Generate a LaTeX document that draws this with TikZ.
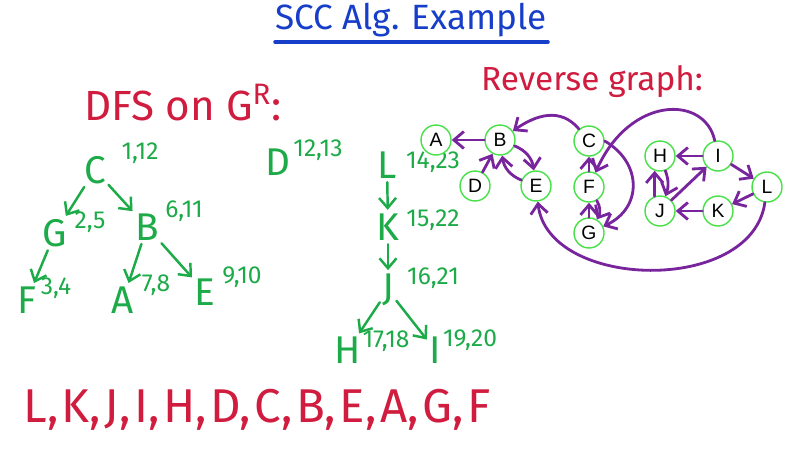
\documentclass[tikz,border=0pt]{standalone}
\usepackage{fontspec}
\setmainfont{Fira Sans}
\newfontfamily\lblfont{Liberation Sans}
\usepackage{xcolor}
\usetikzlibrary{arrows.meta}

\definecolor{inkgreen}{RGB}{29,170,72}
\definecolor{inkred}{RGB}{208,28,62}
\definecolor{inkblue}{RGB}{22,62,200}
\definecolor{inkpurple}{RGB}{120,36,156}
\definecolor{ringgreen}{RGB}{70,225,70}

\begin{document}
\begin{tikzpicture}[
  x=0.02cm, y=-0.02cm,
  vtx/.style={circle, draw=ringgreen, line width=0.8pt, fill=white, minimum size=0.6cm, inner sep=0pt, font=\lblfont\fontsize{11}{13}\selectfont},
  arrow/.style={-{Straight Barb[length=2mm, width=3.4mm]}, draw=inkpurple, line width=1.6pt, line cap=round},
  tarrow/.style={-{Straight Barb[length=2mm, width=3.4mm]}, draw=inkgreen, line width=1.4pt, line cap=round, shorten <=2pt, shorten >=2pt},
  tnode/.style={text=inkgreen, font=\fontsize{22}{26}\selectfont, inner sep=0pt},
  num/.style={text=inkgreen, font=\fontsize{14}{16}\selectfont, inner sep=0pt},
  heading/.style={text=inkred, font=\fontsize{19}{23}\selectfont, inner sep=0pt},
]
\useasboundingbox (0,0) rectangle (786,457);

% titles
\node[text=inkblue, font=\fontsize{20}{24}\selectfont, inner sep=0pt] (title) at (411,20) {SCC Alg. Example};
\draw[inkblue, line width=2pt, line cap=round] (275,42) -- (548,42);
\node[heading, font=\fontsize{24}{28}\selectfont] (dfs) at (183,103) {DFS on G\textsuperscript{R}:};
\node[heading] (rev) at (592,82) {Reverse graph:};

% DFS tree of C
\node[tnode] (tC) at (95,170) {C};
\node[tnode] (tG) at (55,233) {G};
\node[tnode] (tB) at (147,227) {B};
\node[tnode] (tF) at (27,300) {F};
\node[tnode] (tA) at (123,300) {A};
\node[tnode] (tE) at (205,292) {E};
\node[num] (nC) at (140,153) {1,12};
\node[num] (nG) at (90,222) {2,5};
\node[num] (nB) at (184,211) {6,11};
\node[num] (nF) at (56,288) {3,4};
\node[num] (nA) at (156,285) {7,8};
\node[num] (nE) at (242,277) {9,10};

\draw[tarrow] (tC) -- (tG);
\draw[tarrow] (tC) -- (tB);
\draw[tarrow] (tG) -- (tF);
\draw[tarrow] (tB) -- (tA);
\draw[tarrow] (tB) -- (tE);

% D alone
\node[tnode] (tD) at (278,162) {D};
\node[num] (nD) at (318,150) {12,13};

% DFS tree of L
\node[tnode] (tL) at (387,165) {L};
\node[tnode] (tK) at (388,227) {K};
\node[tnode] (tJ) at (388,290) {J};
\node[tnode] (tH) at (348,350) {H};
\node[tnode] (tI) at (435,350) {I};
\node[num] (nL) at (433,162) {14,23};
\node[num] (nK) at (433,220) {15,22};
\node[num] (nJ) at (433,278) {16,21};
\node[num] (nH) at (386,341) {17,18};
\node[num] (nI) at (470,340) {19,20};

\draw[tarrow] (tL) -- (tK);
\draw[tarrow] (tK) -- (tJ);
\draw[tarrow] (tJ) -- (tH);
\draw[tarrow] (tJ) -- (tI);

% post order
\node[text=inkred, font=\fontsize{27}{30}\selectfont, inner sep=0pt] (order) at (257,410)
  {L,\kern2pt K,\kern2pt J,\kern2pt I,\kern2pt H,\kern2pt D,\kern2pt C,\kern2pt B,\kern2pt E,\kern2pt A,\kern2pt G,\kern2pt F};

% reverse graph
\node[vtx] (A) at (436,140) {A};
\node[vtx] (B) at (500,140) {B};
\node[vtx] (D) at (475,186) {D};
\node[vtx] (E) at (536,186) {E};
\node[vtx] (C) at (589,141) {C};
\node[vtx] (F) at (589,187) {F};
\node[vtx] (G) at (589,233) {G};
\node[vtx] (H) at (660,156) {H};
\node[vtx] (I) at (718,156) {I};
\node[vtx] (J) at (660,211) {J};
\node[vtx] (K) at (718,211) {K};
\node[vtx] (L) at (767,187) {L};

\draw[arrow] (B) -- (A);
\draw[arrow] (D) -- (B);
\draw[arrow] (B) to[bend left=30] (E);
\draw[arrow] (E) to[bend left=30] (B);
\draw[arrow] (C) to[out=130, in=35, looseness=1.1] (B);
\draw[arrow] (F) -- (C);
\draw[arrow] (G) -- (F);
\draw[arrow] (F) to[bend left=30] (G);
\draw[arrow] (C.east) to[out=-30, in=25, looseness=1.3] (G);
\draw[arrow] (I) .. controls (705,95) and (630,95) .. (F);
\draw[arrow] (I) -- (H);
\draw[arrow] (H) to[bend left=20] (J);
\draw[arrow] (J.110) -- (H.-110);
\draw[arrow] (J) -- (I);
\draw[arrow] (I) -- (L);
\draw[arrow] (L) -- (K);
\draw[arrow] (K) -- (J);
\draw[arrow] (L) .. controls (752,295) and (548,290) .. (E);

\end{tikzpicture}
\end{document}
